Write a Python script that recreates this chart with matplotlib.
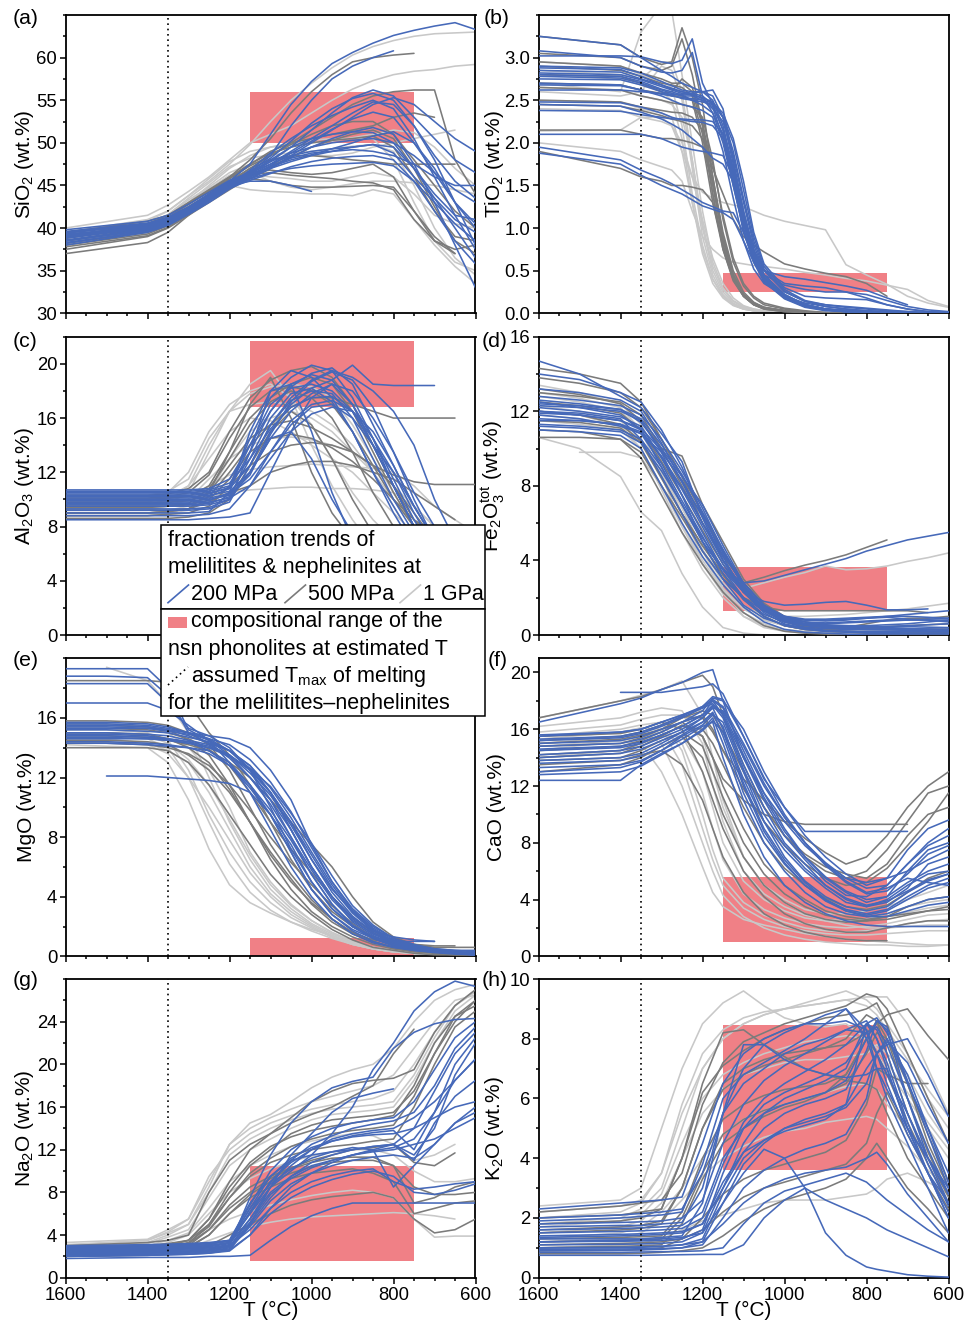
import numpy as np
import matplotlib
matplotlib.use("Agg")
import matplotlib.pyplot as plt
from matplotlib.patches import Rectangle
from matplotlib.ticker import MultipleLocator, FixedLocator, FormatStrFormatter

plt.rcParams["font.family"] = ["Liberation Sans", "DejaVu Sans"]
plt.rcParams["mathtext.fontset"] = "custom"
plt.rcParams["mathtext.rm"] = "Liberation Sans"
plt.rcParams["mathtext.it"] = "Liberation Sans:italic"
plt.rcParams["mathtext.bf"] = "Liberation Sans:bold"
plt.rcParams["mathtext.sf"] = "Liberation Sans"

N = None

# assumed maximum melting temperature and the temperature window of the phonolites
t_melt_max = 1350
t_phonolite = (1150, 750)

# ---------------- (a) SiO2 ----------------
t_sio2 = [1600, 1400, 1350, 1300, 1250, 1200, 1150, 1100, 1050, 1000, 950, 900, 850, 800, 750, 700, 650, 600]
sio2_200mpa = [
    [39.5, 40.5, 41.3, 42.5, 44.0, 45.5, 47.5, 51.0, 54.5, 57.2, 59.3, 60.6, 61.7, 62.6, 63.2, 63.7, 64.1, 63.3],
    [39.0, 40.2, 41.0, 42.3, 43.8, 45.3, 46.5, 48.5, 52.0, 55.0, 57.5, 59.0, 60.0, 60.8, N, N, N, N],
    [39.2, 40.2, 41.0, 42.3, 43.8, 45.2, 46.3, 47.8, 49.5, 51.5, 53.5, 55.3, 56.2, 55.5, 53.0, 50.5, 48.0, 46.5],
    [38.8, 40.0, 40.8, 42.0, 43.5, 45.0, 46.2, 47.5, 49.0, 50.5, 52.0, 53.5, 54.8, 54.5, 52.0, 48.0, 43.0, 38.0],
    [38.5, 39.8, 40.6, 41.8, 43.3, 44.8, 45.8, 47.0, 48.3, 49.5, 50.5, 51.3, 51.8, 51.0, 47.5, 43.0, 38.0, 33.0],
    [39.0, 40.0, 40.8, 42.0, 43.6, 45.2, 46.5, 48.0, 49.5, 50.5, 51.0, 51.3, 51.2, 50.0, 47.0, 43.5, 40.0, 36.5],
    [38.5, 39.8, 40.6, 41.8, 43.4, 45.0, 45.8, 46.5, 47.0, 47.3, 47.5, 47.6, 47.7, 47.3, 45.5, 43.0, 40.5, 38.5],
    [39.5, 40.3, 41.0, 42.2, 43.6, 45.0, 45.5, 45.5, 45.0, 44.3, N, N, N, N, N, N, N, N],
    [38.0, 39.5, 40.3, 41.6, 43.0, 44.6, 45.8, 47.0, 48.5, 50.0, 51.5, 53.0, 54.5, 55.3, 54.5, 52.5, 50.5, 49.0],
    [39.8, 40.8, 41.5, 42.8, 44.2, 45.6, 46.5, 47.5, 48.5, 49.0, 49.3, 49.5, 49.8, 49.5, 47.0, 44.0, 41.5, 41.0],
    [38.3, 39.6, 40.4, 41.7, 43.2, 44.8, 46.0, 47.2, 48.2, 48.8, 49.0, 49.2, 49.0, 48.5, 47.5, 46.0, 45.0, 45.0],
    [39.3, 40.1, 40.9, 42.1, 43.7, 45.1, 46.8, 48.8, 50.5, 52.0, 53.2, 54.2, 55.0, 54.0, 50.5, 46.0, 41.5, 37.5],
    [38.6, 39.9, 40.7, 41.9, 43.4, 44.9, 46.0, 47.3, 48.8, 50.2, 51.6, 52.8, 53.6, 53.0, 50.0, 46.5, 43.0, 40.0],
    [39.6, 40.6, 41.2, 42.4, 43.9, 45.4, 46.6, 47.8, 48.8, 49.5, 50.0, 50.3, 50.5, 50.0, 48.5, 46.5, 44.5, 43.0],
    [38.2, 39.7, 40.5, 41.7, 43.2, 44.7, 45.6, 46.4, 47.2, 47.8, 48.2, 48.4, 48.5, 48.0, 45.5, 42.0, 38.5, 35.8],
    [39.1, 40.3, 41.1, 42.4, 43.9, 45.3, 46.7, 48.2, 50.2, 52.3, 54.0, 55.2, 55.8, 55.0, 52.0, 48.5, 45.5, 43.5],
    [38.9, 40.1, 40.9, 42.1, 43.5, 45.0, 46.1, 47.0, 47.8, 48.5, 49.0, 49.5, 49.8, 48.8, 46.0, 43.5, 41.0, 39.5],
    [39.4, 40.4, 41.2, 42.3, 43.8, 45.2, 46.3, 47.2, 48.0, 48.6, 49.3, 50.0, 50.8, 51.3, 50.0, 47.0, 43.0, 40.5],
]
sio2_500mpa = [
    [39.0, 40.5, 41.5, 43.0, 44.5, 46.0, 48.0, 50.5, 53.5, 56.0, 58.0, 59.5, 60.0, 60.3, 60.5, N, N, N],
    [38.5, 40.0, 41.0, 42.5, 44.0, 45.5, 47.0, 48.5, 50.0, 51.5, 53.0, 54.5, 55.5, 56.0, 56.2, 56.2, 48.0, 44.0],
    [37.0, 38.3, 39.5, 41.5, 43.3, 45.0, 45.8, 45.5, 45.0, 44.8, 44.8, 44.9, 45.0, 44.8, 42.0, 39.0, 37.0, N],
    [37.5, 39.0, 40.0, 41.5, 43.0, 44.5, 46.0, 47.3, 48.3, 49.5, 50.3, 51.0, 51.5, 50.5, 47.0, 42.5, 38.5, 37.0],
    [38.0, 39.3, 40.3, 41.8, 43.5, 45.3, 47.0, 48.0, 48.5, 48.5, 48.3, 48.0, 47.8, 47.5, 47.5, 47.5, 47.5, N],
    [38.2, 39.5, 40.5, 42.0, 43.8, 45.5, 46.5, 46.8, 46.5, 46.3, 46.5, 47.0, 47.5, 46.0, 42.0, 38.5, 37.0, N],
    [39.5, 40.8, 41.5, 42.8, 44.3, 45.8, 47.3, 48.5, 49.8, 51.0, 52.0, 52.5, 52.5, 51.0, 48.0, 45.0, 42.0, 40.0],
    [38.8, 40.2, 41.2, 42.8, 44.4, 46.0, 47.5, 49.0, 50.0, 50.5, 51.0, 51.5, 52.0, 53.0, 53.5, 53.0, N, N],
    [37.8, 39.1, 40.1, 41.7, 43.4, 45.2, 46.3, 46.5, 46.2, 46.0, 45.8, 45.5, 45.3, 44.5, 41.0, 38.5, 37.5, 38.0],
    [38.5, 39.8, 40.8, 42.3, 44.0, 45.8, 47.5, 48.8, 49.5, 50.0, 50.3, 50.5, 50.8, 49.5, 46.0, 42.0, 39.0, 38.5],
]
sio2_1gpa = [
    [39.5, 41.0, 42.0, 43.8, 45.5, 47.5, 49.8, 52.5, 55.0, 57.0, 58.8, 60.3, 61.3, 62.0, 62.5, 62.8, 62.9, 63.0],
    [40.0, 41.5, 42.7, 44.3, 46.0, 48.0, 50.0, 51.0, 52.0, 53.5, 55.0, 56.3, 57.3, 58.0, 58.4, 58.6, 59.0, 59.2],
    [39.0, 40.5, 41.5, 43.3, 44.8, 45.0, 44.5, 44.3, 44.2, 44.0, 44.0, 43.8, 44.5, 44.0, 41.0, 38.0, 35.5, 33.5],
    [38.5, 40.0, 41.2, 43.0, 45.0, 47.0, 48.5, 49.5, 50.0, 50.3, 50.5, 50.5, 50.5, 48.0, 43.0, 38.5, 36.0, 35.0],
    [39.0, 40.3, 41.3, 43.0, 44.8, 46.5, 47.5, 48.0, 48.3, 48.5, 48.5, 48.8, 49.5, 50.0, 50.5, 51.0, 51.5, N],
    [38.8, 40.2, 41.0, 42.7, 44.3, 46.0, 46.3, 46.0, 45.8, 45.5, 45.5, 46.0, 46.5, 46.0, 44.0, 41.5, 40.5, 40.0],
    [39.3, 40.8, 42.0, 43.8, 45.8, 47.8, 49.0, 49.5, 49.8, 50.0, 50.2, 50.6, 51.0, 51.5, 51.2, 49.5, 47.0, 45.0],
    [38.3, 39.8, 41.0, 42.8, 44.6, 46.2, 46.5, 45.5, 44.8, 44.5, 44.8, 45.2, 45.5, 45.5, 45.3, 45.0, 44.5, 44.0],
    [38.9, 40.5, 41.6, 43.5, 45.3, 47.2, 48.2, 48.6, 48.8, 49.0, 49.3, 49.6, 49.8, 49.0, 45.0, 40.0, 36.5, 34.5],
]
sio2_phonolite = (50.0, 56.0)

# ---------------- (b) TiO2 ----------------
t_tio2 = [1600, 1400, 1350, 1300, 1275, 1250, 1225, 1200, 1175, 1150, 1125, 1100, 1075, 1050, 1000, 950, 900, 850, 800, 750, 700, 650, 600]
tio2_200mpa = [
    [3.25, 3.15, 3.0, 2.85, 2.78, 2.7, 2.65, 2.6, 2.5, 2.2, 1.7, 1.15, 0.7, 0.42, 0.2, 0.09, 0.04, 0.02, 0.01, 0.0, 0.0, 0.0, 0.0],
    [3.02, 3.02, 3.01, 2.95, 2.93, 2.97, 3.22, 2.7, 2.45, 2.15, 1.6, 1.05, 0.65, 0.4, 0.18, 0.08, 0.04, 0.02, 0.01, 0.0, 0.0, 0.0, 0.0],
    [3.08, 3.0, 2.9, 2.83, 2.82, 2.85, 3.06, 2.55, 2.35, 2.0, 1.5, 1.0, 0.6, 0.37, 0.17, 0.07, 0.03, 0.02, 0.01, 0.0, 0.0, 0.0, 0.0],
    [2.85, 2.83, 2.75, 2.68, 2.64, 2.6, 2.58, 2.55, 2.45, 2.15, 1.65, 1.1, 0.68, 0.42, 0.2, 0.09, 0.04, 0.02, 0.01, 0.0, 0.0, 0.0, 0.0],
    [2.78, 2.76, 2.7, 2.62, 2.58, 2.55, 2.55, 2.5, 2.4, 2.25, 1.85, 1.3, 0.8, 0.5, 0.25, 0.14, 0.1, 0.08, 0.06, 0.04, 0.02, 0.01, 0.0],
    [2.7, 2.68, 2.62, 2.55, 2.5, 2.45, 2.42, 2.38, 2.3, 1.9, 1.35, 0.85, 0.52, 0.35, 0.2, 0.12, 0.08, 0.05, 0.03, 0.02, 0.01, 0.0, 0.0],
    [2.48, 2.47, 2.42, 2.35, 2.3, 2.27, 2.25, 2.24, 2.2, 2.05, 1.7, 1.15, 0.75, 0.5, 0.35, 0.32, 0.3, 0.25, 0.18, 0.1, 0.05, 0.02, 0.01],
    [2.38, 2.37, 2.33, 2.3, 2.28, 2.28, 2.27, 2.27, 2.25, 2.1, 1.55, 0.95, 0.62, 0.5, 0.43, 0.4, 0.36, 0.32, 0.27, 0.18, 0.1, N, N],
    [2.1, 2.1, 2.1, 2.05, 2.0, 1.95, 1.92, 1.9, 1.88, 1.85, 1.6, 1.1, 0.7, 0.42, 0.2, 0.1, 0.05, 0.03, 0.02, 0.01, 0.0, 0.0, 0.0],
    [1.95, 1.8, 1.68, 1.58, 1.52, 1.45, 1.38, 1.3, 1.25, 1.2, 1.18, 0.95, 0.62, 0.4, 0.2, 0.1, 0.05, 0.03, 0.02, 0.01, 0.0, 0.0, 0.0],
    [2.62, 2.62, 2.6, 2.58, 2.57, 2.57, 2.58, 2.6, 2.62, 2.4, 1.8, 1.2, 0.75, 0.45, 0.22, 0.1, 0.05, 0.03, 0.02, 0.01, 0.0, 0.0, 0.0],
    [2.9, 2.88, 2.82, 2.72, 2.67, 2.62, 2.6, 2.6, 2.55, 2.3, 1.75, 1.2, 0.72, 0.45, 0.22, 0.1, 0.05, 0.03, 0.02, 0.01, 0.0, 0.0, 0.0],
    [1.88, 1.75, 1.62, 1.5, 1.45, 1.4, 1.33, 1.26, 1.22, 1.18, 1.1, 0.85, 0.6, 0.45, 0.33, 0.28, 0.25, 0.25, 0.22, 0.15, 0.08, 0.04, 0.02],
    [2.82, 2.8, 2.74, 2.66, 2.62, 2.58, 2.56, 2.53, 2.48, 2.3, 1.9, 1.35, 0.85, 0.52, 0.26, 0.14, 0.08, 0.05, 0.03, 0.02, 0.01, 0.0, 0.0],
    [2.88, 2.86, 2.78, 2.68, 2.63, 2.6, 2.57, 2.52, 2.42, 2.05, 1.5, 0.98, 0.6, 0.38, 0.18, 0.08, 0.04, 0.02, 0.01, 0.0, 0.0, 0.0, 0.0],
    [2.75, 2.74, 2.68, 2.6, 2.56, 2.52, 2.5, 2.48, 2.45, 2.3, 2.0, 1.45, 0.9, 0.55, 0.28, 0.15, 0.1, 0.07, 0.05, 0.03, 0.02, 0.01, 0.0],
    [2.8, 2.78, 2.72, 2.63, 2.6, 2.56, 2.5, 2.44, 2.35, 2.1, 1.6, 1.05, 0.66, 0.42, 0.2, 0.1, 0.05, 0.03, 0.02, 0.01, 0.0, 0.0, 0.0],
    [2.45, 2.43, 2.36, 2.28, 2.22, 2.15, 2.05, 1.95, 1.82, 1.75, 1.55, 1.15, 0.72, 0.45, 0.22, 0.1, 0.05, 0.03, 0.02, 0.01, 0.0, 0.0, 0.0],
    [2.68, 2.67, 2.62, 2.57, 2.55, 2.53, 2.52, 2.5, 2.47, 2.35, 2.05, 1.55, 0.95, 0.58, 0.3, 0.2, 0.18, 0.17, 0.16, 0.1, 0.05, 0.02, 0.01],
]
tio2_500mpa = [
    [3.25, 3.15, 3.0, 2.92, 2.95, 3.35, 3.0, 2.45, 1.6, 0.9, 0.45, 0.22, 0.12, 0.07, 0.03, 0.01, 0.0, 0.0, 0.0, 0.0, 0.0, 0.0, 0.0],
    [2.95, 2.9, 2.82, 2.75, 2.7, 2.7, 2.6, 2.2, 1.5, 0.85, 0.45, 0.22, 0.12, 0.07, 0.03, 0.01, 0.0, 0.0, 0.0, 0.0, 0.0, 0.0, 0.0],
    [2.8, 2.78, 2.7, 2.6, 2.55, 2.55, 2.5, 2.0, 1.3, 0.75, 0.4, 0.2, 0.1, 0.06, 0.03, 0.01, 0.0, 0.0, 0.0, 0.0, 0.0, 0.0, 0.0],
    [2.65, 2.62, 2.55, 2.5, 2.47, 2.45, 2.42, 2.3, 1.8, 1.1, 0.6, 0.32, 0.18, 0.1, 0.05, 0.02, 0.01, 0.0, 0.0, 0.0, 0.0, 0.0, 0.0],
    [2.45, 2.43, 2.38, 2.32, 2.28, 2.25, 2.2, 2.05, 1.7, 1.4, 1.1, 0.9, 0.8, 0.72, 0.58, 0.52, 0.47, 0.43, 0.35, 0.2, N, N, N],
    [1.9, 1.7, 1.6, 1.55, 1.5, 1.5, 1.48, 1.45, 1.3, 0.8, 0.4, 0.2, 0.1, 0.05, 0.02, 0.01, 0.0, 0.0, 0.0, 0.0, 0.0, 0.0, 0.0],
    [2.15, 2.15, 2.1, 2.05, 2.05, 2.03, 2.0, 1.95, 1.55, 0.9, 0.45, 0.22, 0.12, 0.06, 0.03, 0.01, 0.0, 0.0, 0.0, 0.0, 0.0, 0.0, 0.0],
    [3.05, 3.0, 2.9, 2.85, 2.9, 3.22, 2.8, 2.2, 1.4, 0.75, 0.38, 0.2, 0.1, 0.05, 0.02, 0.01, 0.0, 0.0, 0.0, 0.0, 0.0, 0.0, 0.0],
    [2.9, 2.85, 2.78, 2.7, 2.68, 2.65, 2.55, 2.1, 1.4, 0.8, 0.42, 0.21, 0.11, 0.06, 0.03, 0.01, 0.0, 0.0, 0.0, 0.0, 0.0, 0.0, 0.0],
    [2.7, 2.68, 2.62, 2.58, 2.6, 2.75, 2.65, 2.25, 1.6, 0.95, 0.5, 0.25, 0.13, 0.07, 0.03, 0.01, 0.0, 0.0, 0.0, 0.0, 0.0, 0.0, 0.0],
    [2.5, 2.48, 2.42, 2.38, 2.36, 2.35, 2.3, 2.15, 1.75, 1.15, 0.65, 0.35, 0.2, 0.12, 0.06, 0.03, 0.01, 0.0, 0.0, 0.0, 0.0, 0.0, 0.0],
]
tio2_1gpa = [
    [2.7, 2.6, 3.3, 3.62, 3.55, 2.8, 2.0, 1.2, 0.6, 0.3, 0.15, 0.08, 0.05, 0.03, 0.01, 0.0, 0.0, 0.0, 0.0, 0.0, 0.0, 0.0, 0.0],
    [2.14, 2.15, 2.3, 2.3, 2.2, 1.9, 1.6, 1.42, 1.35, 1.3, 1.27, 1.25, 1.2, 1.15, 1.08, 1.03, 0.98, 0.57, 0.45, 0.34, 0.2, 0.12, 0.07],
    [2.95, 2.9, 2.8, 2.72, 2.65, 2.2, 1.4, 0.8, 0.4, 0.2, 0.1, 0.05, 0.03, 0.02, 0.01, 0.0, 0.0, 0.0, 0.0, 0.0, 0.0, 0.0, 0.0],
    [2.5, 2.48, 2.4, 2.35, 2.3, 1.9, 1.3, 0.75, 0.4, 0.2, 0.1, 0.06, 0.04, 0.02, 0.01, 0.0, 0.0, 0.0, 0.0, 0.0, 0.0, 0.0, 0.0],
    [2.85, 2.8, 2.75, 2.95, 2.95, 2.6, 1.8, 1.0, 0.5, 0.25, 0.12, 0.06, 0.03, 0.02, 0.01, 0.0, 0.0, 0.0, 0.0, 0.0, 0.0, 0.0, 0.0],
    [2.0, 1.9, 1.8, 1.72, 1.68, 1.55, 1.2, 0.9, 0.75, 0.65, 0.6, 0.58, 0.56, 0.55, 0.52, 0.48, 0.45, 0.41, 0.38, 0.33, 0.28, 0.15, 0.08],
    [2.6, 2.55, 2.6, 2.9, 2.85, 2.5, 1.7, 0.9, 0.45, 0.22, 0.1, 0.05, 0.03, 0.02, 0.01, 0.0, 0.0, 0.0, 0.0, 0.0, 0.0, 0.0, 0.0],
    [2.8, 2.75, 2.68, 2.6, 2.5, 2.05, 1.3, 0.7, 0.35, 0.18, 0.09, 0.05, 0.03, 0.02, 0.01, 0.0, 0.0, 0.0, 0.0, 0.0, 0.0, 0.0, 0.0],
    [2.65, 2.62, 2.55, 2.5, 2.45, 2.3, 1.8, 1.05, 0.55, 0.28, 0.14, 0.07, 0.04, 0.02, 0.01, 0.0, 0.0, 0.0, 0.0, 0.0, 0.0, 0.0, 0.0],
    [2.4, 2.38, 2.3, 2.25, 2.2, 2.0, 1.6, 1.1, 0.65, 0.35, 0.18, 0.09, 0.05, 0.03, 0.01, 0.0, 0.0, 0.0, 0.0, 0.0, 0.0, 0.0, 0.0],
]
tio2_phonolite = (0.25, 0.47)

# ---------------- (c) Al2O3 ----------------
t_al2o3 = [1600, 1400, 1350, 1300, 1250, 1200, 1150, 1100, 1050, 1000, 950, 900, 850, 800, 750, 700, 650, 600]
al2o3_200mpa = [
    [10.5, 10.5, 10.5, 10.5, 10.6, 11.0, 14.5, 17.5, 19.0, 19.9, 19.5, 17.5, 14.5, 11.5, 8.5, 6.0, 4.0, 3.0],
    [10.2, 10.2, 10.2, 10.2, 10.3, 10.6, 12.0, 15.0, 17.0, 18.2, 18.8, 19.9, 18.5, 18.4, 18.4, 18.4, N, N],
    [9.0, 9.0, 9.0, 9.0, 9.1, 10.5, 15.0, 18.0, 19.5, 19.0, 17.5, 15.0, 12.0, 9.0, 6.5, 4.5, 3.0, N],
    [9.5, 9.5, 9.5, 9.5, 9.6, 10.0, 13.5, 18.0, 18.5, 15.0, 10.5, 7.0, 5.0, 3.5, 2.5, N, N, N],
    [9.8, 9.8, 9.8, 9.8, 9.9, 10.5, 12.0, 14.5, 16.5, 17.8, 18.5, 18.0, 16.0, 13.5, 10.5, 8.0, 6.0, 4.5],
    [10.0, 10.0, 10.0, 10.0, 10.1, 10.4, 11.5, 13.5, 15.5, 16.8, 17.0, 16.0, 14.0, 12.0, 9.5, 7.0, 5.0, 4.0],
    [8.5, 8.5, 8.5, 8.5, 8.6, 8.7, 9.0, 12.0, 15.0, 17.5, 18.5, 17.0, 14.5, 11.0, 8.0, 5.5, 4.0, N],
    [9.3, 9.3, 9.3, 9.3, 9.4, 10.0, 12.0, 14.5, 15.0, 13.0, 10.0, 7.5, 5.5, 4.0, N, N, N, N],
    [10.4, 10.4, 10.4, 10.4, 10.5, 10.8, 12.5, 15.5, 17.5, 18.8, 19.5, 19.0, 18.0, 16.5, 14.0, 10.0, 7.0, 5.0],
    [9.6, 9.6, 9.6, 9.6, 9.7, 10.2, 13.0, 16.0, 17.8, 18.2, 17.2, 15.0, 12.0, 9.5, 7.0, 5.0, 3.5, N],
    [10.7, 10.7, 10.7, 10.7, 10.8, 11.5, 14.0, 16.5, 18.3, 19.3, 19.7, 18.5, 15.5, 12.5, 9.5, 7.0, 5.0, N],
    [8.8, 8.8, 8.8, 8.8, 8.9, 9.3, 11.0, 13.5, 15.8, 17.0, 17.3, 16.5, 14.0, 11.0, 8.0, 5.5, 4.0, 3.0],
    [10.1, 10.1, 10.1, 10.1, 10.2, 10.8, 13.5, 16.5, 18.5, 19.2, 18.8, 17.0, 14.0, 11.0, 8.0, 5.5, 4.0, N],
    [9.9, 9.9, 9.9, 9.9, 10.0, 10.3, 11.8, 14.8, 17.2, 18.7, 19.4, 18.8, 16.8, 13.5, 10.0, 7.0, 5.0, 3.5],
    [10.6, 10.6, 10.6, 10.6, 10.7, 11.2, 13.0, 15.2, 16.8, 17.5, 17.6, 16.5, 14.0, 11.0, 8.0, 5.5, 4.0, N],
    [9.2, 9.2, 9.2, 9.2, 9.3, 9.8, 12.5, 15.5, 17.3, 18.0, 17.8, 16.0, 13.0, 10.0, 7.5, 5.5, 4.0, N],
    [10.3, 10.3, 10.3, 10.3, 10.4, 10.9, 14.0, 17.0, 18.2, 18.5, 18.0, 16.5, 14.5, 12.0, 9.0, 6.5, 4.5, N],
    [9.7, 9.7, 9.7, 9.7, 9.8, 10.1, 11.0, 13.0, 15.0, 16.3, 16.8, 16.5, 15.0, 12.5, 9.5, 7.0, 5.0, N],
]
al2o3_500mpa = [
    [9.0, 9.0, 9.1, 9.3, 10.5, 13.5, 17.0, 19.0, 16.0, 12.0, 9.0, 7.0, 5.5, 4.0, N, N, N, N],
    [9.5, 9.5, 9.5, 9.6, 10.2, 12.0, 14.0, 15.5, 16.8, 17.5, 17.5, 17.0, 16.5, 16.0, 16.0, 16.0, 16.0, N],
    [9.8, 9.8, 9.8, 9.9, 10.5, 12.5, 14.5, 15.5, 15.8, 15.3, 14.5, 13.5, 12.5, 11.8, 11.3, 11.1, 11.1, 11.1],
    [8.8, 8.8, 8.9, 9.0, 9.5, 11.0, 12.5, 13.5, 14.0, 14.2, 14.0, 13.5, 12.5, 11.0, 9.0, 7.0, 5.0, N],
    [10.0, 10.0, 10.1, 10.2, 11.0, 13.5, 16.0, 17.5, 18.5, 19.0, 18.5, 16.5, 13.5, 10.5, 8.0, 6.0, 4.0, N],
    [9.2, 9.2, 9.2, 9.3, 9.8, 10.5, 11.0, 12.0, 12.5, 12.8, 12.8, 12.5, 12.0, 11.5, 10.5, 9.5, 8.5, N],
    [8.6, 8.6, 8.6, 8.7, 9.0, 10.0, 12.5, 15.0, 16.5, 15.5, 13.0, 10.0, 7.5, 5.5, N, N, N, N],
    [10.3, 10.3, 10.4, 10.8, 12.0, 15.0, 17.5, 18.8, 19.5, 19.8, 19.0, 17.0, 14.0, 11.0, 8.5, 7.0, N, N],
    [9.4, 9.4, 9.5, 9.7, 10.8, 13.0, 15.5, 17.2, 18.0, 17.5, 16.0, 13.5, 10.5, 8.0, 6.0, N, N, N],
    [9.0, 9.0, 9.1, 9.3, 10.0, 11.5, 13.5, 14.5, 14.8, 14.5, 13.8, 12.8, 11.5, 10.0, 8.5, 7.5, N, N],
    [10.1, 10.1, 10.2, 10.5, 11.8, 14.5, 16.8, 18.0, 18.3, 18.0, 17.0, 15.0, 12.5, 10.0, 8.0, 6.0, N, N],
]
al2o3_1gpa = [
    [9.5, 9.5, 9.7, 10.5, 13.5, 16.5, 18.5, 19.5, 17.5, 14.0, 11.0, 8.5, 6.5, N, N, N, N, N],
    [9.0, 9.0, 9.2, 9.5, 10.2, 10.5, 10.7, 10.8, 10.9, 10.9, 10.8, 10.8, 10.7, 10.5, 9.5, 8.0, N, N],
    [9.8, 9.8, 10.2, 11.0, 14.0, 16.5, 17.8, 18.3, 18.5, 18.3, 17.5, 15.5, 13.0, 10.5, 8.0, N, N, N],
    [9.3, 9.3, 9.5, 10.0, 11.0, 11.8, 12.2, 12.4, 12.5, 12.6, 12.5, 12.4, 12.3, 12.0, 11.0, 9.5, 8.5, 7.5],
    [10.3, 10.3, 10.6, 11.5, 14.5, 16.5, 17.0, 17.2, 17.0, 16.5, 15.5, 14.0, 12.0, 9.5, 7.0, N, N, N],
    [8.8, 8.8, 9.0, 9.2, 10.5, 13.0, 15.0, 16.0, 16.5, 16.0, 15.0, 13.5, 12.0, 10.0, 8.0, 6.0, N, N],
    [9.6, 9.6, 10.0, 11.0, 13.0, 15.0, 16.0, 15.8, 15.0, 14.0, 13.0, 12.0, 10.5, 9.0, 7.5, N, N, N],
    [10.0, 10.0, 10.5, 12.0, 15.0, 17.0, 18.0, 18.5, 17.5, 15.5, 13.0, 10.5, 8.5, 7.0, N, N, N, N],
    [9.2, 9.2, 9.5, 10.0, 11.5, 13.0, 14.0, 14.5, 14.6, 14.4, 14.0, 13.5, 12.5, 11.0, 9.5, 8.0, N, N],
]
al2o3_phonolite = (16.8, 21.7)

# ---------------- (d) Fe2O3 (total) ----------------
t_fe2o3 = [1600, 1500, 1400, 1350, 1300, 1250, 1200, 1150, 1100, 1050, 1000, 950, 900, 850, 800, 750, 700, 650, 600]
fe2o3_200mpa = [
    [14.7, 14.0, 12.8, 12.2, 10.8, 9.3, 6.3, 4.0, 2.3, 1.3, 0.7, 0.4, 0.25, 0.2, 0.15, 0.12, 0.1, 0.1, 0.1],
    [12.5, 12.2, 11.8, 11.0, 9.0, 7.0, 5.0, 3.5, 2.8, 2.9, 3.2, 3.5, 3.8, 4.1, 4.5, 4.8, 5.1, 5.3, 5.5],
    [12.0, 11.8, 11.5, 11.0, 9.5, 7.5, 5.0, 3.5, 2.3, 1.8, 1.6, 1.65, 1.75, 1.8, 1.6, 1.35, 1.35, 1.4, N],
    [12.3, 12.2, 12.0, 11.5, 9.8, 7.5, 5.5, 3.5, 2.0, 1.1, 0.7, 0.55, 0.5, 0.48, 0.45, 0.45, 0.45, 0.42, 0.4],
    [11.3, 11.2, 11.0, 10.5, 9.0, 7.0, 5.0, 3.0, 1.6, 0.9, 0.55, 0.4, 0.35, 0.3, 0.3, 0.28, 0.25, 0.22, 0.2],
    [11.5, 11.5, 11.3, 10.8, 9.8, 8.3, 6.3, 4.0, 2.5, 1.5, 0.9, 0.7, 0.65, 0.7, 0.75, 0.8, 0.8, 0.8, 0.8],
    [12.6, 12.4, 12.1, 11.4, 10.0, 8.5, 7.0, 4.8, 2.8, 1.6, 1.0, 0.8, 0.75, 0.8, 0.9, 1.0, 1.1, 1.2, 1.3],
    [14.0, 13.7, 13.0, 12.5, 11.0, 9.0, 6.5, 4.2, 2.3, 1.2, 0.6, 0.35, 0.2, 0.15, 0.1, 0.1, 0.1, 0.1, 0.1],
    [11.0, 10.9, 10.7, 10.0, 8.0, 6.0, 4.2, 2.7, 1.5, 0.7, 0.3, 0.15, 0.1, 0.05, 0.0, 0.0, 0.0, 0.0, 0.0],
    [12.0, 11.9, 11.6, 10.5, 8.5, 6.5, 4.5, 3.0, 2.0, 1.3, 0.9, 0.8, 0.8, 0.85, 0.9, 0.95, 0.85, 0.8, 0.7],
    [12.8, 12.6, 12.3, 11.8, 10.5, 8.8, 6.8, 4.5, 2.6, 1.4, 0.8, 0.55, 0.45, 0.4, 0.4, 0.45, 0.5, 0.55, 0.6],
    [11.8, 11.6, 11.2, 10.8, 9.2, 7.2, 5.3, 3.3, 1.9, 1.0, 0.5, 0.3, 0.2, 0.2, 0.2, 0.2, 0.2, 0.2, 0.2],
    [12.2, 12.0, 11.7, 11.2, 9.5, 7.8, 5.8, 3.8, 2.3, 1.3, 0.75, 0.5, 0.4, 0.35, 0.3, 0.3, 0.3, 0.3, 0.3],
    [11.6, 11.5, 11.3, 10.9, 9.6, 7.9, 6.0, 4.3, 2.8, 1.6, 0.9, 0.6, 0.5, 0.5, 0.5, 0.55, 0.6, 0.7, 0.8],
    [12.4, 12.3, 12.1, 11.6, 10.2, 8.6, 6.6, 4.6, 2.7, 1.4, 0.8, 0.6, 0.6, 0.65, 0.7, 0.75, 0.8, 0.85, 0.9],
    [11.2, 11.1, 10.9, 10.3, 8.8, 7.0, 5.2, 3.6, 2.4, 1.5, 0.95, 0.7, 0.55, 0.5, 0.45, 0.4, 0.35, 0.3, 0.25],
    [13.2, 13.0, 12.6, 12.0, 10.3, 8.2, 6.0, 4.0, 2.4, 1.4, 0.85, 0.6, 0.45, 0.4, 0.38, 0.36, 0.34, 0.32, 0.3],
    [11.9, 11.8, 11.5, 11.1, 9.9, 8.2, 6.4, 4.4, 2.6, 1.5, 1.0, 0.85, 0.85, 0.9, 0.95, 1.0, 1.0, 0.95, 0.9],
]
fe2o3_500mpa = [
    [13.0, 12.8, 12.5, 11.8, 10.0, 8.0, 6.0, 4.2, 2.8, 3.1, 3.45, 3.75, 4.0, 4.3, 4.7, 5.1, N, N, N],
    [14.3, 14.0, 13.5, 12.5, 10.5, 8.5, 6.0, 4.0, 2.5, 1.4, 0.8, 0.5, 0.3, 0.2, 0.15, 0.1, 0.1, 0.1, 0.1],
    [13.2, 12.9, 12.4, 11.5, 10.0, 9.6, 7.0, 5.0, 3.0, 1.7, 1.0, 0.7, 0.5, 0.4, 0.35, 0.3, 0.3, 0.3, 0.3],
    [11.0, 10.9, 10.5, 9.8, 8.0, 6.3, 4.5, 3.0, 2.0, 1.5, 1.3, 1.3, 1.3, 1.3, 1.3, 1.3, 1.3, 1.2, N],
    [12.0, 11.8, 11.3, 10.4, 8.5, 6.5, 4.8, 3.3, 2.0, 1.0, 0.5, 0.3, 0.25, 0.4, 0.6, 0.8, 0.9, 0.9, 1.0],
    [10.6, 10.6, 10.5, 9.5, 7.5, 5.5, 3.8, 2.3, 1.2, 0.5, 0.2, 0.1, 0.05, 0.0, 0.0, 0.0, 0.0, 0.0, 0.0],
    [12.5, 12.3, 11.9, 11.0, 9.3, 7.5, 5.6, 3.8, 2.3, 1.3, 0.7, 0.45, 0.35, 0.3, 0.3, 0.3, 0.3, 0.3, 0.3],
    [13.8, 13.5, 13.0, 12.2, 10.5, 8.5, 6.5, 4.5, 2.8, 1.6, 0.9, 0.6, 0.45, 0.4, 0.4, 0.45, 0.5, 0.55, 0.6],
    [11.5, 11.4, 11.1, 10.3, 8.4, 6.5, 4.8, 3.2, 1.9, 1.0, 0.5, 0.3, 0.2, 0.15, 0.1, 0.1, 0.1, 0.1, 0.1],
]
fe2o3_1gpa = [
    [10.6, 10.0, 8.5, 6.6, 5.6, 3.3, 1.5, 0.4, 0.1, 0.0, 0.0, 0.0, 0.0, 0.0, 0.0, 0.0, 0.0, 0.0, 0.0],
    [N, 9.8, 9.8, 9.5, 8.0, 6.0, 4.0, 2.4, 1.4, 0.8, 0.5, 0.3, 0.2, 0.1, 0.1, 0.1, 0.1, N, N],
    [12.8, 12.5, 12.0, 11.0, 9.0, 6.5, 4.5, 3.2, 2.5, 2.8, 3.1, 3.35, 3.7, 3.5, 3.55, 3.7, 3.95, 4.15, 4.4],
    [13.0, 12.7, 12.2, 11.0, 8.5, 6.0, 3.8, 2.2, 1.2, 0.6, 0.3, 0.2, 0.1, 0.1, 0.1, 0.1, 0.1, 0.1, 0.1],
    [11.5, 11.3, 11.0, 10.0, 8.0, 5.8, 3.8, 2.3, 1.5, 1.1, 1.0, 1.0, 1.05, 1.1, 1.2, 1.3, 1.4, 1.55, 1.7],
    [12.3, 12.0, 11.5, 10.3, 8.8, 6.8, 4.5, 2.5, 1.0, 0.4, 0.2, 0.1, 0.05, 0.0, 0.0, 0.0, 0.0, 0.0, 0.0],
    [12.0, 11.8, 11.2, 10.0, 7.8, 5.5, 3.5, 2.0, 1.0, 0.5, 0.25, 0.15, 0.1, 0.05, 0.05, 0.05, 0.05, 0.05, 0.05],
    [13.4, 13.0, 12.4, 11.3, 9.3, 6.9, 4.6, 2.8, 1.6, 0.9, 0.5, 0.3, 0.2, 0.15, 0.1, 0.1, 0.1, 0.1, 0.1],
    [11.8, 11.6, 11.2, 10.5, 8.7, 6.5, 4.2, 2.5, 1.4, 0.8, 0.5, 0.35, 0.3, 0.3, 0.3, 0.3, 0.3, 0.3, 0.3],
]
fe2o3_phonolite = (1.3, 3.65)

# ---------------- (e) MgO ----------------
t_mgo = [1600, 1500, 1400, 1350, 1300, 1250, 1200, 1150, 1100, 1050, 1000, 950, 900, 850, 800, 750, 700, 650, 600]
mgo_200mpa = [
    [19.3, 19.3, 19.3, 18.0, 15.2, 14.5, 13.5, 12.0, 10.5, 8.0, 5.5, 3.5, 2.0, 1.2, 0.7, 0.5, 0.3, 0.2, 0.15],
    [18.8, 18.8, 18.7, 17.5, 15.0, 14.3, 13.8, 12.8, 11.0, 8.5, 6.0, 4.0, 2.5, 1.5, 0.9, 0.6, 0.4, 0.3, 0.2],
    [18.3, 18.3, 18.3, 17.0, 15.3, 14.8, 14.0, 12.5, 10.0, 7.2, 5.0, 3.2, 2.0, 1.3, 1.0, 1.0, 1.0, N, N],
    [17.0, 17.0, 17.0, 16.5, 15.5, 14.5, 13.0, 11.0, 8.5, 6.0, 4.0, 2.5, 1.5, 0.9, 0.6, 0.4, 0.3, 0.2, 0.1],
    [15.7, 15.7, 15.6, 15.4, 15.0, 14.5, 13.8, 12.5, 11.0, 9.0, 6.5, 4.5, 3.0, 1.8, 1.0, 0.5, 0.3, 0.2, 0.1],
    [15.0, 15.0, 14.9, 14.8, 14.5, 14.2, 13.5, 12.5, 10.5, 8.5, 6.0, 4.0, 2.3, 1.4, 0.8, 0.5, 0.3, 0.2, 0.2],
    [14.3, 14.3, 14.2, 14.1, 14.0, 13.8, 13.0, 11.5, 9.5, 7.0, 4.5, 2.8, 1.7, 1.0, 0.6, 0.4, 0.25, 0.15, 0.1],
    [N, 12.1, 12.1, 12.0, 11.9, 11.8, 11.6, 11.0, 9.5, 7.0, 4.5, 2.8, 1.8, 1.2, 0.8, 0.5, 0.3, 0.2, 0.1],
    [15.3, 15.3, 15.3, 15.2, 15.0, 14.8, 14.6, 14.0, 12.5, 10.5, 7.5, 5.0, 3.2, 2.0, 1.2, 0.8, 0.5, 0.3, 0.2],
    [14.6, 14.6, 14.6, 14.5, 14.3, 14.0, 13.5, 12.5, 11.0, 8.5, 6.0, 4.0, 2.6, 1.7, 1.3, 1.1, 1.0, N, N],
    [15.5, 15.5, 15.4, 15.2, 14.8, 14.3, 13.3, 12.0, 10.2, 8.0, 5.8, 3.8, 2.4, 1.5, 1.0, 0.7, 0.5, 0.4, 0.4],
    [14.9, 14.9, 14.8, 14.6, 14.4, 13.8, 12.8, 11.3, 9.5, 7.5, 5.0, 3.2, 2.0, 1.2, 0.7, 0.4, 0.3, 0.2, 0.1],
    [15.2, 15.2, 15.1, 15.0, 14.7, 14.4, 13.8, 12.8, 11.3, 9.3, 7.0, 4.8, 3.0, 1.8, 1.0, 0.6, 0.4, 0.3, 0.2],
    [14.8, 14.8, 14.7, 14.6, 14.4, 14.1, 13.5, 12.3, 10.8, 8.8, 6.5, 4.3, 2.7, 1.6, 0.9, 0.5, 0.35, 0.25, 0.2],
    [15.4, 15.4, 15.3, 15.1, 14.9, 14.6, 14.2, 13.2, 11.7, 9.7, 7.3, 5.0, 3.1, 1.9, 1.1, 0.7, 0.5, 0.4, 0.3],
    [14.4, 14.4, 14.3, 14.2, 14.0, 13.6, 12.8, 11.5, 9.8, 7.8, 5.5, 3.5, 2.1, 1.3, 0.8, 0.5, 0.35, 0.25, 0.2],
    [15.6, 15.6, 15.5, 15.3, 15.0, 14.6, 13.8, 12.6, 11.0, 9.0, 6.8, 4.6, 2.9, 1.7, 1.0, 0.6, 0.4, 0.3, 0.2],
    [14.7, 14.7, 14.6, 14.5, 14.3, 14.0, 13.4, 12.6, 11.4, 9.6, 7.6, 5.4, 3.4, 2.1, 1.2, 0.7, 0.45, 0.3, 0.2],
]
mgo_500mpa = [
    [18.5, 18.5, 18.5, 18.4, 17.0, 15.0, 13.5, 11.5, 9.0, 6.5, 4.5, 3.0, 2.0, 1.3, 0.8, 0.5, 0.3, 0.2, 0.1],
    [15.5, 15.5, 15.4, 15.2, 14.5, 13.5, 11.5, 9.0, 6.5, 4.5, 3.0, 2.0, 1.3, 0.8, 0.5, 0.3, 0.2, 0.1, 0.1],
    [14.8, 14.8, 14.7, 14.5, 14.2, 13.8, 13.0, 12.0, 10.5, 9.0, 7.5, 6.0, 4.0, 2.3, 1.3, 0.8, 0.6, 0.6, 0.6],
    [14.0, 14.0, 14.0, 13.8, 13.0, 11.5, 9.5, 7.5, 5.5, 4.0, 2.8, 1.8, 1.1, 0.6, 0.4, 0.2, 0.1, 0.1, 0.1],
    [15.8, 15.8, 15.7, 15.5, 15.0, 14.2, 12.5, 10.0, 7.5, 5.5, 3.8, 2.5, 1.6, 1.1, 0.9, 0.8, 0.7, 0.7, N],
    [14.5, 14.5, 14.4, 14.2, 13.5, 12.5, 11.0, 9.0, 7.0, 5.2, 3.5, 2.3, 1.5, 1.0, 0.6, 0.4, 0.3, 0.2, 0.15],
    [15.0, 15.0, 14.9, 14.6, 14.0, 13.0, 11.2, 9.0, 6.8, 5.0, 3.6, 2.5, 1.6, 1.0, 0.6, 0.4, 0.3, 0.2, 0.1],
    [14.3, 14.3, 14.2, 14.0, 13.6, 12.8, 11.5, 9.8, 8.0, 6.3, 4.8, 3.4, 2.2, 1.3, 0.8, 0.5, 0.3, 0.2, 0.1],
    [15.3, 15.3, 15.2, 15.0, 14.6, 13.9, 12.8, 11.0, 9.0, 7.2, 5.6, 4.0, 2.6, 1.6, 1.0, 0.6, 0.4, 0.3, 0.2],
]
mgo_1gpa = [
    [14.2, 14.1, 14.0, 13.0, 10.5, 7.2, 4.8, 3.6, 2.9, 2.3, 1.8, 1.4, 0.9, 0.6, 0.35, 0.2, 0.1, 0.05, 0.0],
    [15.2, 15.2, 15.0, 14.5, 12.5, 9.5, 7.0, 5.0, 3.6, 2.6, 1.9, 1.3, 0.8, 0.5, 0.3, 0.2, 0.1, 0.05, 0.0],
    [N, 19.4, 18.5, 17.0, 15.0, 12.0, 9.0, 6.5, 4.5, 3.2, 2.2, 1.5, 1.0, 0.6, 0.4, 0.2, 0.1, 0.1, 0.1],
    [14.6, 14.6, 14.3, 13.8, 13.0, 11.0, 8.5, 6.0, 4.2, 3.0, 2.1, 1.4, 0.9, 0.5, 0.3, 0.2, 0.1, 0.1, N],
    [15.6, 15.6, 15.4, 15.0, 14.0, 12.5, 10.0, 7.0, 5.0, 3.5, 2.4, 1.6, 1.0, 0.6, 0.4, 0.2, 0.15, 0.1, 0.1],
    [14.8, 14.8, 14.6, 14.0, 12.0, 9.0, 6.2, 4.3, 3.1, 2.3, 1.7, 1.2, 0.8, 0.5, 0.3, 0.2, 0.1, 0.05, 0.0],
    [15.0, 15.0, 14.8, 14.3, 13.2, 11.5, 9.2, 6.8, 4.8, 3.4, 2.4, 1.6, 1.0, 0.6, 0.35, 0.2, 0.1, 0.05, 0.0],
    [14.4, 14.4, 14.2, 13.6, 12.0, 10.0, 7.8, 5.6, 4.0, 2.8, 2.0, 1.3, 0.8, 0.5, 0.3, 0.2, 0.1, 0.05, 0.0],
]
mgo_phonolite = (0.0, 1.25)

# ---------------- (f) CaO ----------------
t_cao = [1600, 1400, 1350, 1300, 1250, 1200, 1175, 1150, 1100, 1050, 1000, 950, 900, 850, 800, 750, 700, 650, 600]
cao_200mpa = [
    [16.5, 17.8, 18.2, 18.8, 19.3, 20.0, 20.2, 18.0, 14.0, 11.5, 9.5, 7.8, 6.5, 5.5, 5.2, 5.5, 6.0, 6.8, 7.5],
    [N, 18.6, 18.6, 18.6, 18.8, 19.0, 19.2, 18.5, 15.5, 12.5, 10.5, 8.8, 8.8, 8.8, 8.8, 8.8, 8.8, N, N],
    [15.5, 15.8, 16.0, 16.5, 17.0, 17.5, 17.8, 17.0, 14.0, 11.0, 8.5, 6.8, 5.3, 4.3, 4.2, 5.0, 6.5, 8.0, 9.0],
    [15.0, 15.2, 15.5, 16.0, 16.5, 17.0, 17.5, 16.0, 12.5, 9.5, 7.5, 6.0, 4.8, 3.8, 3.5, 4.0, 5.0, 5.8, 6.0],
    [14.5, 14.7, 15.0, 15.6, 16.2, 17.0, 18.0, 17.5, 14.5, 11.5, 9.0, 7.0, 5.5, 4.5, 3.8, 4.2, 6.0, 7.5, 8.0],
    [14.0, 14.3, 14.6, 15.2, 15.8, 16.5, 17.2, 15.5, 11.5, 8.5, 6.5, 5.0, 4.0, 3.3, 3.0, 3.3, 4.2, 5.0, 5.5],
    [12.4, 12.4, 13.5, 14.3, 15.0, 16.0, 16.8, 15.0, 11.0, 8.0, 6.0, 4.5, 3.5, 3.0, 2.8, 3.0, 3.5, 4.0, 4.2],
    [13.3, 13.5, 13.8, 14.5, 15.5, 16.3, 17.0, 16.5, 13.0, 9.5, 7.0, 5.3, 4.2, 3.5, 3.2, 3.5, 4.5, 5.3, 5.8],
    [13.0, 13.3, 13.7, 14.5, 15.3, 16.2, 16.5, 14.0, 10.0, 7.0, 5.0, 3.8, 3.0, 2.5, 2.2, 2.1, 2.1, 2.1, 2.1],
    [14.8, 15.0, 15.3, 15.8, 16.5, 17.3, 18.2, 18.0, 16.0, 13.0, 10.5, 8.5, 7.0, 5.8, 5.0, 5.5, 7.5, 9.0, 9.6],
    [15.2, 15.4, 15.7, 16.2, 16.8, 17.5, 18.0, 17.0, 13.5, 10.5, 8.0, 6.5, 5.0, 4.0, 3.5, 3.8, 4.8, 6.5, 7.0],
    [13.8, 14.0, 14.3, 15.0, 15.8, 16.8, 17.5, 17.3, 14.8, 12.0, 9.8, 8.0, 6.5, 5.3, 4.5, 4.8, 5.5, 5.2, 5.0],
    [14.2, 14.5, 14.8, 15.4, 16.0, 16.8, 17.6, 17.2, 14.2, 11.2, 8.8, 7.0, 5.6, 4.6, 4.0, 4.2, 5.2, 6.0, 6.5],
    [15.6, 15.8, 16.0, 16.5, 17.0, 17.6, 18.1, 17.6, 15.0, 12.2, 9.8, 8.0, 6.6, 5.5, 4.8, 5.0, 6.5, 7.8, 8.5],
    [13.6, 13.8, 14.1, 14.8, 15.6, 16.5, 17.1, 16.2, 12.2, 9.0, 6.8, 5.2, 4.0, 3.2, 2.8, 2.8, 3.2, 3.6, 3.8],
    [14.6, 14.8, 15.1, 15.6, 16.2, 17.0, 17.7, 16.8, 13.2, 10.0, 7.8, 6.2, 5.0, 4.1, 3.6, 3.9, 4.6, 5.4, 5.8],
    [12.8, 13.0, 13.4, 14.2, 15.0, 15.9, 16.6, 15.8, 12.0, 8.8, 6.6, 5.0, 3.9, 3.2, 2.9, 3.2, 4.0, 4.8, 5.2],
    [15.3, 15.5, 15.8, 16.3, 16.9, 17.6, 18.3, 18.1, 15.5, 12.6, 10.0, 8.0, 6.4, 5.2, 4.4, 4.6, 5.8, 7.2, 7.8],
]
cao_500mpa = [
    [15.0, 15.3, 15.6, 16.0, 16.5, 17.0, 16.0, 14.5, 12.5, 11.0, 9.5, 8.3, 7.3, 6.5, 7.0, 8.5, 10.5, 12.0, 13.0],
    [14.5, 14.8, 15.2, 15.8, 16.5, 15.5, 14.0, 12.5, 11.0, 10.0, 9.5, 9.3, 9.3, 9.3, 9.3, 9.3, 9.3, N, N],
    [16.8, 18.0, 18.3, 18.8, 19.3, 19.8, 19.0, 17.0, 13.5, 10.5, 8.5, 7.0, 6.0, 5.5, 6.0, 7.5, 9.5, 11.5, 12.0],
    [13.0, 13.5, 14.0, 14.8, 15.5, 14.0, 12.0, 10.0, 7.0, 5.0, 3.8, 3.0, 2.6, 2.4, 2.5, 2.8, 3.0, 3.2, 3.5],
    [14.0, 14.3, 14.8, 15.5, 16.3, 15.5, 14.0, 12.0, 9.0, 6.5, 5.0, 4.0, 3.2, 2.8, 2.6, 2.8, 3.5, 4.0, 4.2],
    [13.5, 13.8, 14.2, 14.5, 13.5, 11.0, 9.0, 7.0, 4.5, 3.0, 2.2, 1.7, 1.4, 1.2, 1.1, 1.1, N, N, N],
    [15.5, 15.7, 16.0, 16.5, 16.0, 13.0, 11.0, 9.0, 6.0, 4.2, 3.0, 2.3, 1.9, 1.7, 1.7, 2.0, 2.3, 2.5, 2.5],
    [14.8, 15.0, 15.4, 16.0, 16.8, 17.3, 17.0, 15.8, 13.0, 10.5, 8.5, 7.2, 6.3, 5.8, 5.5, 6.5, 8.5, 10.0, 10.5],
    [14.2, 14.5, 15.0, 15.6, 16.2, 16.0, 15.0, 13.5, 10.5, 8.0, 6.2, 5.0, 4.1, 3.5, 3.3, 3.6, 4.5, 5.5, 6.0],
    [15.2, 15.5, 15.8, 16.3, 16.9, 16.8, 15.8, 14.5, 11.8, 9.5, 7.8, 6.5, 5.5, 5.0, 5.2, 6.2, 7.8, 9.5, 11.5],
    [13.8, 14.0, 14.5, 15.2, 15.8, 14.8, 13.0, 11.2, 8.0, 5.8, 4.4, 3.5, 2.9, 2.6, 2.5, 2.6, 2.9, 3.2, 3.3],
]
cao_1gpa = [
    [14.5, 15.2, 15.0, 13.0, 10.0, 6.3, 4.5, 3.5, 2.6, 2.2, 1.9, 1.6, 1.4, 1.2, 1.1, 1.0, 0.9, 0.8, 0.8],
    [16.8, 18.0, 18.4, 18.8, 19.4, 17.0, 14.0, 11.0, 7.0, 5.0, 3.8, 3.0, 2.5, 2.2, 2.0, 2.0, 2.1, 2.2, 2.2],
    [15.5, 16.0, 16.3, 16.5, 14.5, 10.0, 7.5, 5.5, 3.8, 2.9, 2.4, 2.0, 1.8, 1.7, 1.8, 2.0, 2.3, 2.5, 2.6],
    [14.0, 14.5, 15.0, 15.5, 15.5, 13.0, 10.5, 8.0, 5.3, 4.0, 3.2, 2.7, 2.5, 2.4, 2.6, 3.0, 3.5, 3.8, 4.0],
    [15.0, 15.5, 15.8, 15.0, 12.0, 8.0, 6.0, 4.3, 2.8, 2.0, 1.5, 1.2, 1.0, 0.9, 0.8, 0.8, 0.7, 0.7, 0.8],
    [15.8, 16.3, 16.7, 17.0, 17.0, 15.5, 13.0, 10.5, 7.0, 5.0, 4.0, 3.3, 3.0, 3.0, 3.2, 3.5, 4.0, 4.5, 5.0],
    [15.3, 15.8, 16.1, 16.0, 13.5, 9.0, 6.8, 5.0, 3.4, 2.6, 2.1, 1.8, 1.6, 1.5, 1.5, 1.6, 1.7, 1.8, 1.8],
    [14.8, 15.2, 15.5, 15.8, 15.0, 11.5, 9.0, 6.8, 4.4, 3.3, 2.7, 2.3, 2.1, 2.0, 2.1, 2.3, 2.6, 2.9, 3.0],
    [16.2, 16.8, 17.2, 17.5, 17.3, 15.0, 12.0, 9.5, 6.0, 4.4, 3.5, 2.9, 2.6, 2.5, 2.6, 2.8, 3.1, 3.4, 3.6],
]
cao_phonolite = (1.0, 5.6)

# ---------------- (g) Na2O ----------------
t_na2o = [1600, 1400, 1350, 1300, 1250, 1200, 1150, 1100, 1050, 1000, 950, 900, 850, 800, 750, 700, 650, 600]
na2o_200mpa = [
    [2.6, 2.7, 2.75, 2.8, 2.9, 3.2, 5.5, 8.5, 10.0, 11.5, 13.5, 16.0, 19.5, 22.0, 25.0, 26.8, 27.8, 27.3],
    [2.3, 2.4, 2.45, 2.5, 2.6, 3.0, 7.5, 11.5, 14.5, 16.5, 17.8, 18.4, 18.8, 21.5, 23.0, 23.8, 24.2, 24.3],
    [2.0, 2.1, 2.15, 2.2, 2.3, 2.6, 5.0, 8.5, 11.5, 13.5, 15.5, 16.8, 17.3, 17.7, N, N, N, N],
    [2.2, 2.3, 2.35, 2.4, 2.5, 2.8, 5.0, 7.5, 9.5, 10.8, 11.5, 12.0, 12.3, 12.5, 14.0, 17.5, 21.0, 23.0],
    [2.5, 2.6, 2.65, 2.7, 2.8, 3.0, 4.5, 6.5, 8.0, 9.0, 9.6, 10.0, 10.2, 9.0, 8.3, 8.5, 8.8, 9.0],
    [1.8, 1.9, 1.9, 1.9, 2.0, 2.0, 2.1, 3.5, 4.8, 5.8, 6.5, 7.0, 7.0, 7.0, 7.0, 7.0, 7.0, 7.0],
    [2.8, 2.9, 2.95, 3.0, 3.1, 3.5, 6.0, 8.5, 10.5, 12.0, 13.0, 13.5, 13.8, 14.0, 15.0, 16.5, 18.5, 20.5],
    [3.0, 3.1, 3.15, 3.2, 3.3, 3.5, 7.0, 9.5, 11.0, 11.5, 11.8, 12.0, 12.3, 12.5, 11.5, 14.0, 19.0, 22.0],
    [2.4, 2.5, 2.55, 2.6, 2.7, 2.9, 5.5, 8.0, 9.5, 10.5, 11.0, 11.5, 11.8, 12.0, 12.5, 13.0, 14.0, 15.0],
    [2.1, 2.2, 2.25, 2.3, 2.4, 2.6, 4.0, 6.5, 8.5, 9.8, 10.8, 11.5, 12.0, 12.5, 11.0, 14.5, 17.0, 18.5],
    [2.7, 2.8, 2.85, 2.9, 3.0, 3.3, 6.0, 9.0, 11.0, 12.5, 13.3, 14.0, 14.4, 14.7, 15.5, 18.0, 21.5, 23.5],
    [2.9, 3.0, 3.05, 3.1, 3.2, 3.4, 6.5, 8.8, 10.2, 11.2, 11.8, 12.2, 12.0, 8.5, 10.5, 12.5, 14.5, 16.0],
    [2.3, 2.4, 2.45, 2.5, 2.6, 2.9, 5.2, 7.8, 9.3, 10.3, 11.0, 11.5, 11.9, 12.2, 13.0, 15.5, 18.5, 20.5],
    [2.5, 2.6, 2.65, 2.7, 2.8, 3.1, 6.2, 9.0, 10.8, 12.0, 12.8, 13.3, 13.6, 13.8, 12.0, 15.5, 20.0, 22.5],
    [2.0, 2.1, 2.15, 2.2, 2.3, 2.5, 4.0, 6.0, 7.5, 8.5, 9.2, 9.7, 10.0, 9.5, 8.0, 7.8, 8.2, 8.8],
    [2.7, 2.8, 2.85, 2.9, 3.0, 3.3, 6.5, 9.5, 11.2, 12.2, 12.8, 13.2, 13.4, 13.5, 14.0, 15.0, 16.0, 16.5],
    [2.2, 2.3, 2.35, 2.4, 2.5, 2.7, 4.8, 7.2, 8.8, 9.8, 10.5, 11.0, 11.3, 11.5, 11.2, 12.5, 14.5, 15.5],
    [2.9, 3.0, 3.05, 3.1, 3.2, 3.5, 6.8, 10.0, 12.0, 13.2, 14.0, 14.5, 14.8, 15.0, 16.5, 19.5, 22.5, 24.0],
]
na2o_500mpa = [
    [2.6, 2.8, 3.0, 3.5, 5.5, 9.0, 12.0, 13.5, 15.0, 16.5, 17.5, 18.2, 18.5, 18.7, 19.5, 23.0, 25.5, 27.0],
    [2.4, 2.6, 2.8, 3.2, 5.0, 8.0, 10.5, 12.0, 13.5, 14.3, 14.8, 15.0, 15.2, 15.5, 17.5, 21.0, 24.0, 26.0],
    [2.2, 2.3, 2.5, 2.8, 4.0, 6.0, 7.5, 8.5, 9.3, 9.8, 10.0, 10.2, 9.8, 9.0, 6.0, 6.5, 7.0, 7.2],
    [2.0, 2.1, 2.2, 2.4, 3.0, 4.0, 5.0, 6.0, 6.8, 7.3, 7.6, 7.8, 8.0, 7.5, 5.5, 4.2, 4.5, 5.5],
    [2.8, 3.0, 3.2, 3.5, 5.0, 7.5, 9.5, 10.8, 11.5, 12.0, 12.3, 12.5, 12.8, 13.0, 16.0, 20.0, 23.5, 25.0],
    [2.5, 2.7, 2.9, 3.2, 4.5, 6.5, 8.0, 9.3, 10.2, 10.8, 11.2, 11.3, 11.3, 10.5, 7.0, 7.5, 8.5, 9.0],
    [3.0, 3.3, 3.5, 4.0, 8.0, 11.0, 12.5, 13.5, 14.5, 15.3, 16.0, 17.0, 18.0, 21.0, 23.3, N, N, N],
    [2.3, 2.5, 2.7, 3.0, 4.5, 6.8, 8.5, 9.5, 10.3, 11.0, 11.5, 12.0, 12.2, 12.5, 10.8, 10.5, 11.7, N],
    [2.5, 2.7, 2.9, 3.3, 4.8, 7.5, 9.8, 11.2, 12.3, 13.0, 13.5, 13.8, 14.0, 14.3, 17.0, 21.0, 24.5, 26.0],
    [2.2, 2.4, 2.6, 2.9, 4.0, 6.0, 7.8, 9.0, 9.8, 10.4, 10.8, 11.0, 11.0, 10.5, 8.5, 7.8, 7.8, 8.0],
    [2.7, 2.9, 3.1, 3.5, 5.5, 8.5, 10.8, 12.3, 13.2, 13.8, 14.2, 14.5, 14.8, 15.2, 18.0, 22.0, 24.5, 25.5],
]
na2o_1gpa = [
    [3.0, 3.5, 4.2, 5.0, 8.5, 12.5, 14.5, 15.3, 16.5, 17.8, 18.8, 19.5, 20.0, 21.5, 24.0, 26.0, 27.0, 27.5],
    [2.8, 3.2, 3.8, 4.5, 7.5, 10.5, 12.0, 13.0, 14.0, 14.8, 15.3, 15.5, 15.7, 16.0, 18.5, 22.0, 25.0, 26.5],
    [2.3, 2.5, 2.8, 3.2, 4.5, 5.5, 6.2, 6.8, 7.3, 7.7, 8.0, 8.2, 8.0, 7.5, 5.5, 3.8, 3.9, 3.9],
    [2.1, 2.3, 2.5, 2.8, 3.5, 4.2, 4.8, 5.2, 5.5, 5.7, 5.8, 5.9, 6.0, 6.1, 6.0, 5.8, 5.5, N],
    [2.6, 3.0, 3.5, 4.2, 6.5, 9.0, 10.5, 11.5, 12.3, 12.8, 13.2, 13.5, 13.3, 12.5, 11.0, 11.5, 12.5, N],
    [3.3, 3.6, 4.5, 5.5, 9.5, 12.0, 13.5, 14.5, 15.2, 15.8, 16.2, 16.5, 16.8, 17.5, 20.0, 23.0, 25.5, 26.8],
    [2.9, 3.3, 4.0, 5.0, 8.0, 11.5, 13.0, 14.0, 14.8, 15.4, 15.8, 16.0, 16.2, 16.5, 19.0, 22.5, 25.5, 27.0],
    [2.5, 2.8, 3.3, 4.0, 6.0, 8.0, 9.3, 10.2, 10.9, 11.4, 11.8, 12.0, 12.0, 11.5, 10.0, 9.0, 9.0, 9.3],
    [3.1, 3.5, 4.3, 5.5, 9.0, 12.5, 14.0, 15.0, 15.8, 16.5, 17.0, 17.5, 18.0, 19.0, 21.5, 24.0, 26.0, 26.5],
]
na2o_phonolite = (1.6, 10.5)

# ---------------- (h) K2O ----------------
t_k2o = [1600, 1400, 1350, 1300, 1250, 1200, 1150, 1100, 1050, 1000, 950, 900, 850, 800, 775, 750, 700, 650, 600]
k2o_200mpa = [
    [0.75, 0.75, 0.75, 0.76, 0.77, 0.78, 0.78, 1.1, 2.0, 2.6, 3.0, 1.5, 0.75, 0.36, 0.28, 0.22, 0.1, 0.05, 0.02],
    [1.3, 1.3, 1.3, 1.35, 1.4, 2.5, 5.5, 7.8, 7.8, 7.3, 7.0, 6.8, 6.7, 6.8, 7.0, 7.0, 5.0, 3.5, 2.5],
    [1.7, 1.75, 1.75, 1.8, 1.85, 3.0, 5.5, 7.0, 7.8, 8.2, 8.5, 8.8, 9.0, 8.0, 7.0, 6.3, 5.0, 4.0, 3.0],
    [1.1, 1.12, 1.13, 1.15, 1.2, 1.5, 3.0, 4.5, 5.5, 6.0, 6.3, 6.6, 7.0, 8.5, 8.7, 8.2, 6.5, 5.0, 3.5],
    [0.9, 0.92, 0.93, 0.95, 1.0, 1.2, 2.5, 3.8, 4.5, 5.0, 5.3, 5.5, 5.8, 7.0, 7.5, 7.8, 8.0, 6.8, 5.4],
    [2.0, 2.1, 2.15, 2.2, 2.3, 3.5, 5.5, 6.5, 7.0, 7.5, 7.8, 8.0, 8.3, 8.2, 7.5, 6.5, 4.8, 3.5, 2.0],
    [1.4, 1.45, 1.47, 1.5, 1.55, 1.8, 3.2, 4.2, 4.6, 4.9, 5.1, 5.3, 5.8, 8.5, 8.0, 7.0, 5.0, 3.5, 2.2],
    [1.0, 1.0, 1.02, 1.05, 1.1, 1.2, 1.8, 2.5, 3.0, 3.3, 3.5, 3.6, 3.7, 4.0, 4.2, 3.8, 2.8, 2.0, 1.2],
    [1.2, 1.25, 1.27, 1.3, 1.35, 1.5, 2.5, 3.5, 4.3, 4.0, 3.0, 2.6, 2.3, 2.0, 1.8, 1.6, 1.3, 1.0, 0.7],
    [2.3, 2.5, 2.55, 2.6, 2.7, 4.5, 6.5, 7.5, 8.0, 8.3, 8.5, 8.5, 8.6, 8.3, 7.5, 6.8, 5.5, 4.0, 2.8],
    [1.6, 1.65, 1.67, 1.7, 1.75, 2.2, 4.0, 5.0, 5.5, 5.8, 6.0, 6.2, 6.6, 8.0, 8.6, 8.3, 6.0, 4.0, 2.5],
    [0.85, 0.85, 0.86, 0.87, 0.88, 0.9, 1.0, 1.8, 2.5, 2.9, 3.1, 3.3, 3.5, 3.2, 2.9, 2.6, 2.1, 1.6, 1.2],
    [1.9, 2.0, 2.05, 2.1, 2.2, 3.8, 6.0, 6.8, 7.2, 7.6, 8.0, 8.5, 9.0, 8.3, 7.0, 6.0, 4.5, 3.0, 1.5],
    [1.2, 1.22, 1.23, 1.25, 1.3, 1.6, 3.5, 5.0, 5.8, 6.2, 6.5, 6.8, 7.2, 8.2, 8.4, 7.8, 6.0, 4.3, 2.8],
    [1.5, 1.55, 1.57, 1.6, 1.65, 2.0, 3.8, 5.2, 6.0, 6.5, 6.9, 7.3, 7.8, 8.5, 8.3, 7.5, 5.5, 3.8, 2.4],
    [1.0, 1.02, 1.03, 1.05, 1.1, 1.3, 2.8, 4.0, 4.6, 5.0, 5.2, 5.4, 5.7, 6.5, 7.5, 8.0, 6.8, 5.0, 3.2],
    [1.8, 1.85, 1.87, 1.9, 2.0, 2.6, 4.5, 5.8, 6.6, 7.1, 7.5, 7.9, 8.3, 8.6, 8.0, 7.2, 5.2, 3.5, 2.0],
    [1.35, 1.4, 1.42, 1.45, 1.5, 1.8, 3.0, 4.2, 5.0, 5.5, 5.8, 6.0, 6.3, 7.6, 8.6, 8.4, 6.6, 4.8, 3.0],
    [0.95, 0.96, 0.97, 0.98, 1.0, 1.1, 2.0, 3.0, 3.6, 4.0, 4.3, 4.5, 4.8, 6.0, 7.5, 7.9, 7.2, 5.8, 4.5],
]
k2o_500mpa = [
    [2.2, 2.4, 2.5, 2.6, 3.5, 5.8, 7.2, 7.9, 8.2, 8.5, 8.7, 8.9, 9.1, 9.5, 9.4, 9.0, 7.5, 6.0, 4.5],
    [1.5, 1.6, 1.65, 1.8, 3.0, 5.0, 6.5, 7.0, 7.3, 7.5, 7.6, 7.7, 7.8, 8.2, 8.5, 8.8, 9.0, 8.1, 7.3],
    [1.8, 1.9, 2.0, 2.3, 4.0, 6.5, 8.2, 8.3, 7.8, 7.4, 7.0, 6.8, 6.6, 6.5, 6.3, 5.5, 4.0, 3.0, 2.0],
    [0.8, 0.8, 0.82, 0.85, 0.9, 1.0, 1.4, 1.9, 2.3, 2.6, 2.8, 3.0, 3.3, 4.0, 4.5, 4.0, 3.0, 2.3, 1.5],
    [1.3, 1.35, 1.37, 1.4, 2.2, 4.0, 5.3, 5.8, 6.1, 6.3, 6.4, 6.5, 6.8, 8.0, 7.5, 6.8, 6.5, 6.5, N],
    [1.0, 1.05, 1.07, 1.1, 1.8, 3.3, 4.5, 5.0, 5.4, 5.7, 5.9, 6.2, 6.8, 8.0, 8.6, 7.5, 5.5, 4.0, 2.7],
    [2.0, 2.1, 2.2, 2.3, 4.0, 6.2, 7.1, 7.6, 8.0, 8.3, 8.5, 8.7, 8.8, 9.0, 9.2, 8.5, 6.5, 4.5, 3.0],
    [1.1, 1.15, 1.17, 1.2, 1.3, 1.6, 2.2, 2.7, 3.0, 3.2, 3.4, 3.6, 3.8, 4.5, 5.5, 6.2, 4.8, 3.5, 2.3],
    [1.6, 1.7, 1.75, 1.9, 3.0, 5.0, 6.3, 6.8, 7.1, 7.3, 7.5, 7.7, 8.0, 8.8, 8.6, 8.0, 6.0, 4.2, 2.8],
    [1.2, 1.25, 1.27, 1.3, 2.0, 3.5, 4.8, 5.3, 5.6, 5.8, 6.0, 6.2, 6.5, 7.5, 8.2, 8.0, 6.5, 4.8, 3.2],
    [0.9, 0.92, 0.94, 1.0, 1.3, 2.0, 2.8, 3.3, 3.6, 3.8, 4.0, 4.2, 4.6, 5.8, 7.0, 6.8, 5.2, 3.8, 2.5],
]
k2o_1gpa = [
    [2.4, 2.6, 3.0, 5.0, 7.0, 8.5, 9.2, 9.6, 9.1, 8.7, 8.5, 8.4, 8.5, 8.0, 7.5, 7.0, 6.0, 5.0, 4.0],
    [2.2, 2.4, 2.6, 3.5, 5.5, 7.0, 8.0, 8.5, 8.8, 9.0, 9.2, 9.4, 9.6, 9.3, 9.0, 8.5, 7.5, 6.0, 5.0],
    [1.0, 1.1, 1.15, 1.3, 1.6, 1.9, 2.1, 2.3, 2.5, 2.6, 2.6, 2.6, 2.7, 2.8, 3.0, 3.3, 3.5, 3.2, 2.8],
    [1.8, 2.0, 2.3, 3.0, 5.0, 7.0, 8.0, 8.5, 8.8, 9.0, 9.1, 9.2, 9.3, 9.4, 9.4, 9.4, 8.5, 7.0, 5.5],
    [1.5, 1.7, 1.9, 2.5, 4.0, 5.5, 6.3, 6.8, 7.0, 7.2, 7.3, 7.3, 7.4, 7.5, 7.8, 7.5, 6.8, 5.5, 4.5],
    [1.3, 1.5, 1.7, 2.2, 3.0, 4.0, 4.8, 5.3, 5.6, 5.8, 6.0, 6.2, 6.4, 6.5, 6.3, 5.8, 5.0, 4.0, 3.2],
    [2.0, 2.2, 2.5, 3.5, 5.8, 7.5, 8.3, 8.7, 8.9, 9.0, 9.1, 9.2, 9.3, 9.1, 8.8, 8.3, 7.3, 6.3, 5.4],
    [1.7, 1.9, 2.1, 2.8, 4.5, 6.0, 6.8, 7.2, 7.5, 7.7, 7.9, 8.0, 8.1, 8.0, 7.7, 7.2, 6.2, 5.2, 4.3],
    [1.2, 1.3, 1.5, 1.9, 2.6, 3.4, 4.0, 4.4, 4.7, 4.9, 5.0, 5.2, 5.3, 5.4, 5.3, 5.0, 4.4, 3.6, 2.9],
]
k2o_phonolite = (3.6, 8.45)

# ---------------- styling ----------------
C200 = "#4669B9"
C500 = "#7B7B7B"
C1G = "#C8C8C8"
PINK = "#F08086"
LW = 1.15

panels = [
    dict(tag="(a)", ylabel="SiO$_2$ (wt.%)", t=t_sio2, s200=sio2_200mpa, s500=sio2_500mpa, s1g=sio2_1gpa,
         box=sio2_phonolite, ylim=(30, 65), yticks=[30, 35, 40, 45, 50, 55, 60], minor=2.5, fmt="%d"),
    dict(tag="(b)", ylabel="TiO$_2$ (wt.%)", t=t_tio2, s200=tio2_200mpa, s500=tio2_500mpa, s1g=tio2_1gpa,
         box=tio2_phonolite, ylim=(0, 3.5), yticks=[0, 0.5, 1.0, 1.5, 2.0, 2.5, 3.0], minor=0.25, fmt="%.1f"),
    dict(tag="(c)", ylabel="Al$_2$O$_3$ (wt.%)", t=t_al2o3, s200=al2o3_200mpa, s500=al2o3_500mpa, s1g=al2o3_1gpa,
         box=al2o3_phonolite, ylim=(0, 22), yticks=[0, 4, 8, 12, 16, 20], minor=2, fmt="%d"),
    dict(tag="(d)", ylabel="Fe$_2$O$_3^{\\mathrm{tot}}$ (wt.%)", t=t_fe2o3, s200=fe2o3_200mpa, s500=fe2o3_500mpa,
         s1g=fe2o3_1gpa, box=fe2o3_phonolite, ylim=(0, 16), yticks=[0, 4, 8, 12, 16], minor=2, fmt="%d"),
    dict(tag="(e)", ylabel="MgO (wt.%)", t=t_mgo, s200=mgo_200mpa, s500=mgo_500mpa, s1g=mgo_1gpa,
         box=mgo_phonolite, ylim=(0, 20), yticks=[0, 4, 8, 12, 16], minor=2, fmt="%d"),
    dict(tag="(f)", ylabel="CaO (wt.%)", t=t_cao, s200=cao_200mpa, s500=cao_500mpa, s1g=cao_1gpa,
         box=cao_phonolite, ylim=(0, 21), yticks=[0, 4, 8, 12, 16, 20], minor=2, fmt="%d"),
    dict(tag="(g)", ylabel="Na$_2$O (wt.%)", t=t_na2o, s200=na2o_200mpa, s500=na2o_500mpa, s1g=na2o_1gpa,
         box=na2o_phonolite, ylim=(0, 28), yticks=[0, 4, 8, 12, 16, 20, 24], minor=2, fmt="%d"),
    dict(tag="(h)", ylabel="K$_2$O (wt.%)", t=t_k2o, s200=k2o_200mpa, s500=k2o_500mpa, s1g=k2o_1gpa,
         box=k2o_phonolite, ylim=(0, 10), yticks=[0, 2, 4, 6, 8, 10], minor=1, fmt="%d"),
]

W, H = 964, 1320
fig = plt.figure(figsize=(W / 100, H / 100), dpi=100)

col_x = [(65.5, 475.5), (538.5, 948.5)]
row_y = [(15.0, 313.3), (336.7, 635.0), (658.3, 956.3), (979.0, 1277.7)]
label_x = [-0.071, -0.080]
tag_pos = {"(a)": (13, 18), "(b)": (484, 18), "(c)": (13, 342), "(d)": (482, 342),
           "(e)": (13, 661), "(f)": (488, 660), "(g)": (13, 981), "(h)": (482, 981)}


def draw_group(ax, t, lines, color, z):
    tt = np.asarray(t, dtype=float)
    for v in lines:
        vv = np.array(v, dtype=float)
        assert len(vv) == len(tt), (len(vv), len(tt), v)
        ax.plot(tt, vv, color=color, lw=LW, zorder=z,
                solid_joinstyle="round", solid_capstyle="round")


for i, p in enumerate(panels):
    r, c = divmod(i, 2)
    x0, x1 = col_x[c]
    y0, y1 = row_y[r]
    ax = fig.add_axes([x0 / W, 1 - y1 / H, (x1 - x0) / W, (y1 - y0) / H])

    lo, hi = p["box"]
    ax.add_patch(Rectangle((min(t_phonolite), lo), abs(t_phonolite[0] - t_phonolite[1]), hi - lo,
                           facecolor=PINK, edgecolor="none", zorder=1))
    draw_group(ax, p["t"], p["s1g"], C1G, 2)
    draw_group(ax, p["t"], p["s500"], C500, 3)
    draw_group(ax, p["t"], p["s200"], C200, 4)
    ax.axvline(t_melt_max, color="black", lw=1.2, ls=(0, (1, 2.2)), zorder=6)

    ax.set_xlim(1600, 600)
    ax.set_ylim(*p["ylim"])
    ax.xaxis.set_major_locator(MultipleLocator(200))
    ax.xaxis.set_minor_locator(MultipleLocator(50))
    ax.yaxis.set_major_locator(FixedLocator(p["yticks"]))
    ax.yaxis.set_minor_locator(MultipleLocator(p["minor"]))
    ax.yaxis.set_major_formatter(FormatStrFormatter(p["fmt"]))
    ax.tick_params(which="both", direction="out", width=1.1, labelsize=13.3, pad=2)
    ax.tick_params(which="major", length=4.0)
    ax.tick_params(which="minor", length=2.4)
    ax.tick_params(axis="x", pad=2.6)
    for s in ax.spines.values():
        s.set_linewidth(1.3)
    ax.set_ylabel(p["ylabel"], fontsize=15)
    ax.yaxis.set_label_coords(label_x[c], 0.5)
    if r == 3:
        ax.set_xlabel("T (°C)", fontsize=15, labelpad=-2)
    else:
        ax.tick_params(axis="x", labelbottom=False)

    tx, ty = tag_pos[p["tag"]]
    fig.text(tx / W, 1 - ty / H, p["tag"], fontsize=15.3, ha="left", va="center")

# ---------------- key (drawn in pixel coordinates) ----------------
key = fig.add_axes([0, 0, 1, 1], zorder=10)
key.set_xlim(0, W)
key.set_ylim(H, 0)
key.axis("off")

key.add_patch(Rectangle((161, 525), 323.5, 84.3, facecolor="white", edgecolor="black", lw=1.1))
key.add_patch(Rectangle((161, 609.3), 323.5, 106.7, facecolor="white", edgecolor="black", lw=1.1))

kfs = 15.5
key.text(168, 546, "fractionation trends of", fontsize=kfs, va="baseline", ha="left")
key.text(168, 573, "melilitites & nephelinites at", fontsize=kfs, va="baseline", ha="left")
for x_a, col, txt in [(168, C200, "200 MPa"), (285, C500, "500 MPa"), (400, C1G, "1 GPa")]:
    key.plot([x_a, x_a + 20.5], [602.7, 585], color=col, lw=1.2)
    key.text(x_a + 23, 600, txt, fontsize=kfs, va="baseline", ha="left")
key.add_patch(Rectangle((167.7, 616.7), 19, 11.6, facecolor=PINK, edgecolor="none"))
key.text(191, 627, "compositional range of the", fontsize=kfs, va="baseline", ha="left")
key.text(168, 655, "nsn phonolites at estimated T", fontsize=kfs, va="baseline", ha="left")
key.plot([168, 188], [685, 667], color="black", lw=1.2, ls=(0, (1, 2.2)))
key.text(191, 682, "assumed T$_{\\mathrm{max}}$ of melting", fontsize=kfs, va="baseline", ha="left")
key.text(168, 709, "for the melilitites\u2013nephelinites", fontsize=kfs, va="baseline", ha="left")

fig.savefig("out.png", dpi=100)
